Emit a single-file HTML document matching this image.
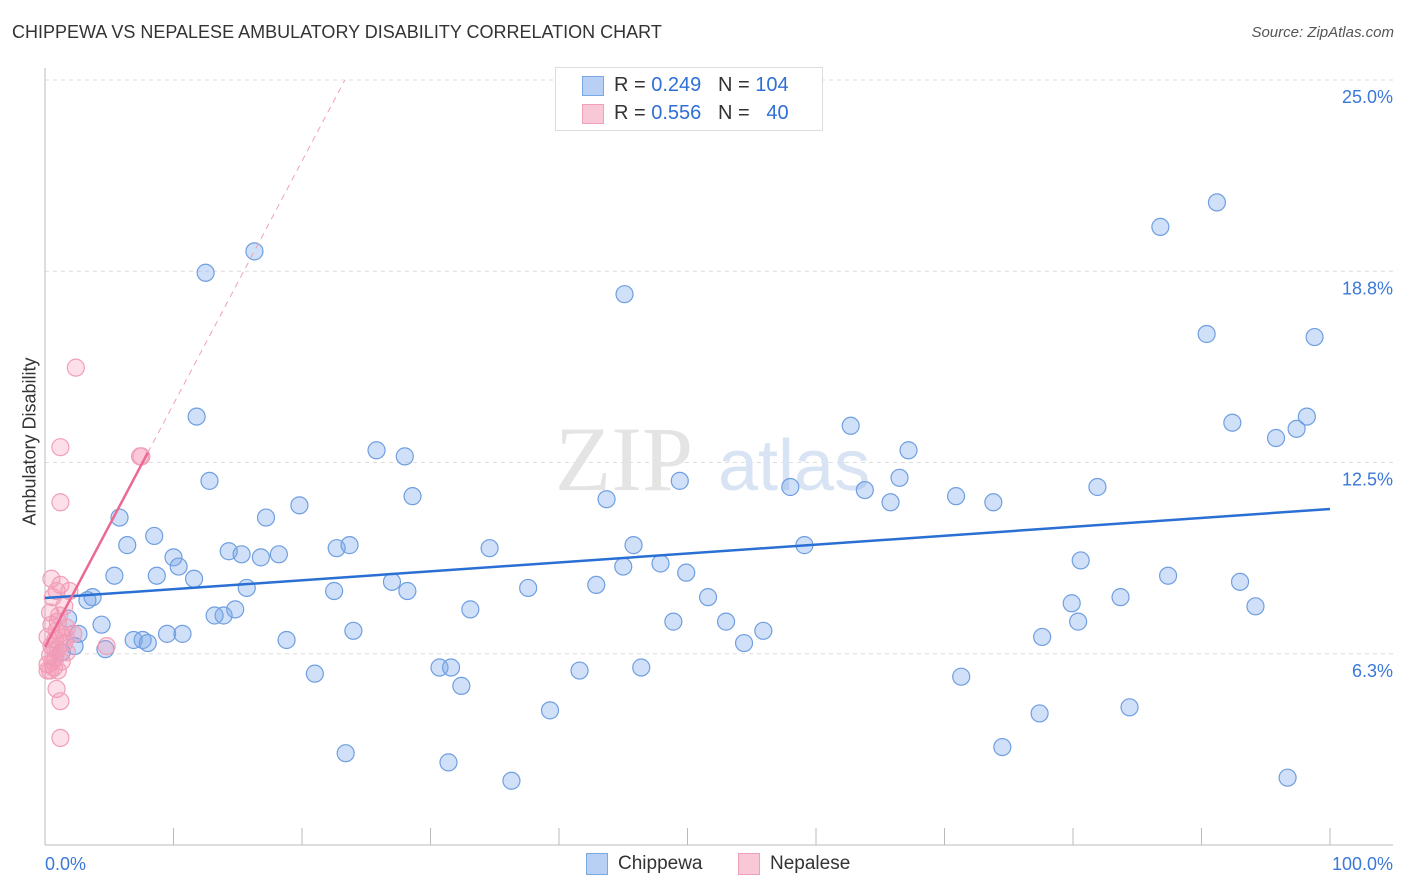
<!DOCTYPE html>
<html><head><meta charset="utf-8">
<style>
body{margin:0;background:#fff;font-family:"Liberation Sans",sans-serif;}
#wrap{position:relative;width:1406px;height:892px;overflow:hidden;}
.t{position:absolute;white-space:nowrap;}
</style></head><body>
<div id="wrap">
<div class="t" style="left:12px;top:22px;font-size:18px;color:#333;">CHIPPEWA VS NEPALESE AMBULATORY DISABILITY CORRELATION CHART</div>
<div class="t" style="right:12px;top:24px;font-size:15px;color:#555;font-style:italic;">Source: ZipAtlas.com</div>
<div class="t" style="left:-40px;top:445px;font-size:18px;color:#333;transform:rotate(-90deg);width:140px;text-align:center;">Ambulatory Disability</div>
<svg id="plot" width="1406" height="892" style="position:absolute;left:0;top:0"></svg>
<div style="position:absolute;left:555px;top:67px;width:266px;height:62px;border:1px solid #ddd;background:#fff;font-size:20px;">
  <div style="position:absolute;left:26px;top:8px;width:20px;height:18px;background:#b8d0f4;border:1px solid #7aa7e6;"></div>
  <div class="t" style="left:58px;top:6px;color:#333;">R = <span style="color:#2f6fd6">0.249</span>&nbsp;&nbsp;&nbsp;N = <span style="color:#2f6fd6">104</span></div>
  <div style="position:absolute;left:26px;top:36px;width:20px;height:18px;background:#f8c8d6;border:1px solid #f0a0b8;"></div>
  <div class="t" style="left:58px;top:34px;color:#333;">R = <span style="color:#2f6fd6">0.556</span>&nbsp;&nbsp;&nbsp;N = &nbsp;&nbsp;<span style="color:#2f6fd6">40</span></div>
</div>
<div style="position:absolute;left:586px;top:853px;width:20px;height:20px;background:#b8d0f4;border:1px solid #7aa7e6;"></div>
<div class="t" style="left:618px;top:853px;font-size:19px;color:#333;">Chippewa</div>
<div style="position:absolute;left:738px;top:853px;width:20px;height:20px;background:#f8c8d6;border:1px solid #f0a0b8;"></div>
<div class="t" style="left:770px;top:853px;font-size:19px;color:#333;">Nepalese</div>
</div>
<script>
const yTicks=[25,18.75,12.5,6.25];
const yTickLabels=["25.0%","18.8%","12.5%","6.3%"];
const xTickLabels=["0.0%","100.0%"];
const blueX=[12.5,16.3,45.1,86.8,91.2,90.4,98.8,11.8,62.7,92.4,98.2,97.4,95.8,25.8,28.0,67.2,12.8,49.4,66.5,58.0,63.8,81.9,28.6,43.7,65.8,70.9,73.8,19.8,5.8,17.2,8.5,6.4,22.7,23.7,34.6,45.8,59.1,14.3,15.3,16.8,18.2,10.0,10.4,80.6,5.4,8.7,11.6,45.0,47.9,49.9,27.0,87.4,93.0,15.7,22.5,28.2,37.6,42.9,3.7,3.3,51.6,79.9,83.7,33.1,94.2,14.8,13.9,13.2,1.8,4.4,53.0,48.9,80.4,24.0,55.9,2.6,9.5,10.7,6.9,7.6,8.0,18.8,54.4,77.6,2.3,4.7,1.3,46.4,30.7,31.6,41.6,21.0,71.3,32.4,39.3,77.4,84.4,74.5,23.4,31.4,36.3,96.7];
const blueY=[18.7,19.4,18.0,20.2,21.0,16.7,16.6,14.0,13.7,13.8,14.0,13.6,13.3,12.9,12.7,12.9,11.9,11.9,12.0,11.7,11.6,11.7,11.4,11.3,11.2,11.4,11.2,11.1,10.7,10.7,10.1,9.8,9.7,9.8,9.7,9.8,9.8,9.6,9.5,9.4,9.5,9.4,9.1,9.3,8.8,8.8,8.7,9.1,9.2,8.9,8.6,8.8,8.6,8.4,8.3,8.3,8.4,8.5,8.1,8.0,8.1,7.9,8.1,7.7,7.8,7.7,7.5,7.5,7.4,7.2,7.3,7.3,7.3,7.0,7.0,6.9,6.9,6.9,6.7,6.7,6.6,6.7,6.6,6.8,6.5,6.4,6.3,5.8,5.8,5.8,5.7,5.6,5.5,5.2,4.4,4.3,4.5,3.2,3.0,2.7,2.1,2.2];
const pinkX=[2.4,1.2,7.4,7.5,1.2,0.5,1.2,0.9,1.9,0.6,1.5,0.4,1.0,0.5,1.7,0.9,1.2,2.2,0.2,0.8,1.5,0.5,1.0,1.7,0.4,0.8,1.3,0.2,0.7,1.0,0.4,0.9,1.2,1.2,4.8,0.8,1.6,0.6,1.1,0.2];
const pinkY=[15.6,13.0,12.7,12.7,11.2,8.7,8.5,8.3,8.3,8.1,7.8,7.6,7.3,7.2,7.1,7.0,6.9,6.9,6.8,6.7,6.6,6.5,6.4,6.3,6.2,6.1,6.0,5.9,5.8,5.7,5.7,5.1,4.7,3.5,6.5,6.4,6.8,6.0,7.5,5.7];
const blueTrend=[8.07,10.98];
const pinkTrend=[6.47,0.794];
const svg=document.getElementById('plot');
const NS='http://www.w3.org/2000/svg';
const sx=v=>45+v*12.85, sy=v=>845-v*30.6;
function mk(tag,attrs){const e=document.createElementNS(NS,tag);for(const k in attrs)e.setAttribute(k,attrs[k]);svg.appendChild(e);return e;}
yTicks.forEach((t,i)=>{
  const g=mk('line',{x1:45,x2:1393,y1:sy(t),y2:sy(t),stroke:'#ddd','stroke-dasharray':'4,4'});
  
  
  const tx=mk('text',{x:1393,y:sy(t)+23,'text-anchor':'end','font-size':18,fill:'#3b78d8','font-family':'Liberation Sans, sans-serif'});
  tx.textContent=yTickLabels[i];
  
  
});
let a=mk('line',{x1:45,x2:45,y1:68,y2:845,stroke:'#bbb'});


a=mk('line',{x1:45,x2:1393,y1:845,y2:845,stroke:'#bbb'});


for(let i=1;i<=10;i++){const tk=mk('line',{x1:sx(i*10),x2:sx(i*10),y1:828,y2:845,stroke:'#bbb'});
  
  }
xTickLabels.forEach((l,i)=>{const tx=mk('text',{x:i?1393:45,y:870,'text-anchor':i?'end':'start','font-size':18,fill:'#3b78d8','font-family':'Liberation Sans, sans-serif'});tx.textContent=l;
  
  });
let wm=mk('text',{x:555,y:490,'font-size':92,fill:'#e4e4e4','font-family':'Liberation Serif, serif'});wm.textContent='ZIP';


wm=mk('text',{x:718,y:490,'font-size':72,fill:'#d8e4f4','font-family':'Liberation Sans, sans-serif'});wm.textContent='atlas';


blueX.forEach((x,i)=>{const c=mk('circle',{cx:sx(x),cy:sy(blueY[i]),r:8.5,fill:'rgba(120,165,235,0.35)',stroke:'#6f9fe0','stroke-width':1.2});
  
  });
pinkX.forEach((x,i)=>{const c=mk('circle',{cx:sx(x),cy:sy(pinkY[i]),r:8.5,fill:'rgba(245,150,180,0.3)',stroke:'#f0a0b8','stroke-width':1.2});
  
  });
let l=mk('line',{x1:sx(0),x2:sx(100),y1:sy(blueTrend[0]),y2:sy(blueTrend[1]),stroke:'#2a6fd4','stroke-width':2.5});


const pxEnd=(25-pinkTrend[0])/pinkTrend[1];
l=mk('line',{x1:sx(8),x2:sx(pxEnd),y1:sy(pinkTrend[0]+8*pinkTrend[1]),y2:sy(25),stroke:'#f0a0b8','stroke-width':1,'stroke-dasharray':'6,5'});


l=mk('line',{x1:sx(0),x2:sx(8),y1:sy(pinkTrend[0]),y2:sy(pinkTrend[0]+8*pinkTrend[1]),stroke:'#ec6a92','stroke-width':2.5});


</script>
</body></html>
